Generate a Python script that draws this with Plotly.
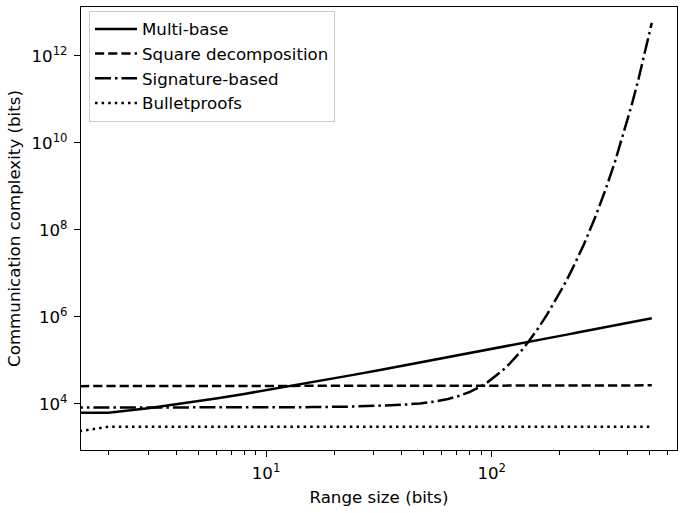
import plotly.graph_objects as go
import math

range_bits = [1, 2, 3, 4, 6, 8, 12, 16, 24, 32, 40, 48, 56, 64, 72, 80, 88, 96, 104, 112,
              120, 128, 136, 144, 152, 160, 176, 192, 208, 224, 240, 256, 288, 320, 352,
              384, 416, 448, 480, 512]

multi_base = [6200, 6200, 7900, 9700, 13200, 16800, 24000, 31100, 45400, 59700, 74000,
              88300, 102600, 117000, 131200, 145500, 159800, 174000, 188500, 203000,
              217000, 231000, 245700, 260000, 274300, 289000, 317200, 346000, 374400,
              403000, 431600, 460000, 517000, 575000, 632000, 689000, 746000, 804000,
              861000, 918000]

square_decomp = [25300, 25300, 25300, 25300, 25300, 25300, 25330, 25340, 25360, 25380,
                 25400, 25420, 25440, 25460, 25480, 25500, 25520, 25540, 25560, 25580,
                 25600, 25620, 25640, 25660, 25680, 25700, 25740, 25780, 25820, 25860,
                 25900, 25940, 26020, 26100, 26180, 26260, 26340, 26420, 26500, 26580]

signature_based = [8100, 8105, 8110, 8130, 8160, 8195, 8265, 8350, 8590, 8930, 9430,
                   10170, 11250, 12870, 15240, 18720, 23850, 31400, 42500, 58900,
                   83000, 118500, 170800, 247700, 361000, 527700, 1.135e6, 2.44e6,
                   5.07e6, 1.06e7, 2.2e7, 4.57e7, 1.98e8, 8.59e8, 3.72e9, 1.61e10,
                   7.0e10, 3.03e11, 1.32e12, 5.7e12]

bulletproofs = [1700] + [2960] * 39

series = [
    ("Multi-base", multi_base, "solid"),
    ("Square decomposition", square_decomp, "9.2px,4px"),
    ("Signature-based", signature_based, "16px,4px,2.5px,4px"),
    ("Bulletproofs", bulletproofs, "2.5px,4.1px"),
]

x_tickvals = [10, 100]
x_ticktext = ["10<sup>1</sup>", "10<sup>2</sup>"]
x_minor = [2, 3, 4, 5, 6, 7, 8, 9, 20, 30, 40, 50, 60, 70, 80, 90, 200, 300, 400, 500, 600]
y_tickvals = [1e4, 1e6, 1e8, 1e10, 1e12]
y_ticktext = ["10<sup>4</sup>", "10<sup>6</sup>", "10<sup>8</sup>", "10<sup>10</sup>", "10<sup>12</sup>"]

FONT = "DejaVu Sans"
FS = 16.67

fig = go.Figure()
for i, (name, vals, dash) in enumerate(series):
    fig.add_trace(go.Scatter(
        x=range_bits, y=vals, mode="lines", name=name, legendgroup=str(i),
        line=dict(color="black", width=2.5, dash=dash),
    ))

fig.update_layout(
    width=685, height=513,
    margin=dict(l=81, r=8, t=7, b=63, autoexpand=False),
    paper_bgcolor="white", plot_bgcolor="white",
    font=dict(family=FONT, size=FS, color="black"),
    showlegend=True,
    legend=dict(
        x=0.0134, y=0.992, xanchor="left", yanchor="top",
        bgcolor="rgba(255,255,255,0.8)", bordercolor="#cccccc", borderwidth=1,
        font=dict(family=FONT, size=FS, color="black"),
        tracegroupgap=0, itemwidth=42,
    ),
    xaxis=dict(
        type="log", range=[math.log10(1.513), 2.821], automargin=False,
        tickvals=x_tickvals, ticktext=x_ticktext,
        ticks="outside", ticklen=6, tickwidth=1.3, tickcolor="black",
        ticklabelstandoff=2,
        minor=dict(tickvals=x_minor, ticks="outside", ticklen=3.5, tickwidth=1, tickcolor="black", showgrid=False),
        showgrid=False, zeroline=False,
        showline=True, linecolor="black", linewidth=1.3, mirror=True,
        title=dict(text="Range size (bits)", font=dict(family=FONT, size=FS), standoff=9),
    ),
    yaxis=dict(
        type="log", range=[2.936, 13.12], automargin=False,
        tickvals=y_tickvals, ticktext=y_ticktext,
        ticks="outside", ticklen=6, tickwidth=1.3, tickcolor="black",
        ticklabelstandoff=3,
        showgrid=False, zeroline=False,
        showline=True, linecolor="black", linewidth=1.3, mirror=True,
        title=dict(text="Communication complexity (bits)", font=dict(family=FONT, size=FS), standoff=6),
    ),
)

fig.write_html(
    "out.html",
    config={"displayModeBar": False},
    post_script="document.body.style.margin='0';document.body.style.overflow='hidden';",
)
